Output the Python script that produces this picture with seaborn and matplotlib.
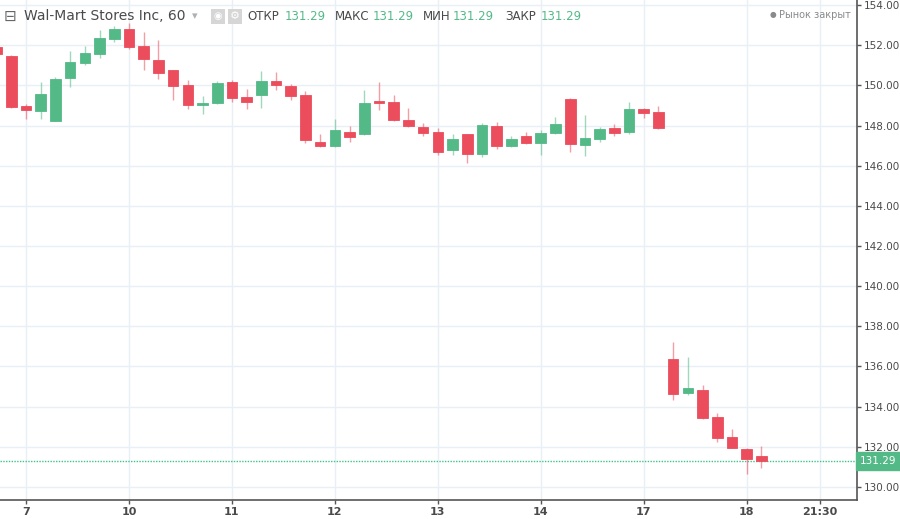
import numpy as np
import seaborn as sns
import matplotlib.pyplot as plt
from matplotlib.patches import Rectangle

# hourly candles, index 0 = first bar of day "7"
idx = list(range(-2, 51))
opens = [151.92, 151.45, 148.96, 148.73, 148.20, 150.38, 151.09, 151.57, 152.31, 152.81,
         151.98, 151.25, 150.75, 150.03, 149.00, 149.10, 150.17, 149.42, 149.52, 150.21,
         149.98, 149.50, 147.19, 147.00, 147.67, 147.60, 149.22, 149.19, 148.29, 147.94,
         147.67, 146.80, 147.56, 146.60, 147.96, 146.98, 147.50, 147.13, 147.64, 149.32,
         147.01, 147.33, 147.90, 147.66, 148.81, 148.66, 136.35, 134.69, 134.85, 133.46,
         132.48, 131.90, 131.55]
closes = [151.54, 148.90, 148.77, 149.55, 150.31, 151.17, 151.60, 152.35, 152.81, 151.89,
          151.29, 150.59, 149.95, 149.00, 149.10, 150.14, 149.39, 149.19, 150.21, 150.00,
          149.49, 147.26, 146.97, 147.77, 147.43, 149.14, 149.14, 148.26, 148.00, 147.64,
          146.69, 147.35, 146.57, 148.04, 146.96, 147.35, 147.13, 147.62, 148.05, 147.10,
          147.40, 147.81, 147.63, 148.81, 148.62, 147.90, 134.64, 134.94, 133.41, 132.42,
          131.96, 131.41, 131.29]
highs = [152.00, 151.50, 149.05, 150.15, 150.41, 151.70, 151.95, 152.75, 152.95, 153.10,
         152.66, 152.25, 150.75, 150.25, 149.45, 150.20, 150.25, 149.82, 150.72, 150.65,
         150.08, 149.70, 147.58, 148.33, 148.00, 149.75, 150.15, 149.52, 148.89, 148.14,
         147.90, 147.60, 147.60, 148.10, 148.16, 147.50, 147.70, 147.77, 148.44, 149.35,
         148.50, 147.93, 148.06, 149.16, 148.89, 148.96, 137.22, 136.47, 135.09, 133.68,
         132.91, 131.92, 132.02]
lows = [151.50, 148.85, 148.30, 148.30, 148.20, 149.90, 151.00, 151.34, 152.15, 151.79,
        150.75, 150.31, 149.25, 148.80, 148.55, 149.05, 149.17, 148.80, 148.89, 149.79,
        149.29, 147.14, 146.94, 146.95, 147.17, 147.55, 148.76, 148.20, 147.95, 147.46,
        146.52, 146.52, 146.14, 146.45, 146.82, 146.95, 147.10, 146.52, 147.60, 146.69,
        146.49, 147.20, 147.50, 147.60, 148.39, 147.82, 134.35, 134.59, 133.38, 132.25,
        131.93, 130.64, 130.94]

day_ticks = [0, 7, 14, 21, 28, 35, 42, 49, 54]
day_labels = ['7', '10', '11', '12', '13', '14', '17', '18', '21:30']
price_ticks = list(range(130, 155, 2))
last_price = 131.29

up_color = '#53b987'
down_color = '#eb4d5c'
grid_color = '#e8eff5'
axis_color = '#555555'
text_color = '#4a4a4a'

sns.set_theme(style='white')
plt.rcParams['font.family'] = ['DejaVu Sans']

fig = plt.figure(figsize=(9, 5.19), dpi=100)
ax = fig.add_axes([0, 19 / 519, 857 / 900, 500 / 519])

x = np.array(idx, dtype=float)
o = np.array(opens)
c = np.array(closes)
h = np.array(highs)
l = np.array(lows)
colors = [up_color if cc >= oo else down_color for oo, cc in zip(o, c)]

bottoms = np.minimum(o, c)
heights = np.maximum(np.abs(c - o), 0.07)

ax.vlines(x, l, h, colors=colors, linewidth=1, alpha=0.55, zorder=2)
ax.bar(x, heights, bottom=bottoms, width=0.72, color=colors, edgecolor=colors,
       linewidth=0.6, zorder=3)

# last price line
ax.axhline(last_price, color='#3cc48a', linestyle=(0, (1, 1)), linewidth=1, zorder=1)

ax.set_xlim(-1.77, 56.5)
ax.set_ylim(129.35, 154.25)

ax.set_xticks(day_ticks)
ax.set_xticklabels(day_labels)
ax.set_yticks(price_ticks)
ax.set_yticklabels([f'{p:.2f}' for p in price_ticks])
ax.yaxis.tick_right()

ax.grid(True, color=grid_color, linewidth=1)
ax.set_axisbelow(True)

for side in ['left', 'top']:
    ax.spines[side].set_visible(False)
for side in ['right', 'bottom']:
    ax.spines[side].set_color(axis_color)
    ax.spines[side].set_linewidth(1.2)

ax.tick_params(axis='y', which='both', right=True, length=3, width=1,
               color=axis_color, labelsize=7.5, labelcolor=text_color, pad=2)
ax.tick_params(axis='x', which='both', bottom=True, length=3, width=1,
               color=axis_color, labelsize=8, labelcolor=text_color, pad=2)
for lbl in ax.get_xticklabels():
    lbl.set_fontweight('bold')

# price tag on the right axis
ax.annotate(f'{last_price:.2f}', xy=(1, last_price), xycoords=('axes fraction', 'data'),
            xytext=(15.5, 0), textcoords='offset points', va='center', ha='center',
            fontsize=7.5, color='white',
            bbox=dict(boxstyle='square,pad=0.4', fc=up_color, ec=up_color),
            annotation_clip=False)

# header
fig.text(4 / 900, 1 - 16 / 519, '⊟', fontsize=11, color='#666666', va='center', ha='left')
fig.text(24 / 900, 1 - 16 / 519, 'Wal-Mart Stores Inc, 60', fontsize=10,
         color=text_color, va='center', ha='left')
fig.text(192 / 900, 1 - 16 / 519, '▾', fontsize=8, color='#b0b0b0', va='center', ha='left')
for bx in (211, 228):
    fig.patches.append(Rectangle((bx / 900, 1 - 24 / 519), 14 / 900, 15 / 519,
                                 transform=fig.transFigure, fc='#d6d6d6', ec='none'))
fig.text(218 / 900, 1 - 16 / 519, '◉', fontsize=7, color='white', va='center', ha='center')
fig.text(235 / 900, 1 - 16 / 519, '⚙', fontsize=8, color='white', va='center', ha='center')

header = [('ОТКР', 247, 285), ('МАКС', 335, 373), ('МИН', 423, 453), ('ЗАКР', 505, 541)]
for name, hx, vx in header:
    fig.text(hx / 900, 1 - 16 / 519, name, fontsize=8.5, color=text_color,
             va='center', ha='left')
    fig.text(vx / 900, 1 - 16 / 519, f'{last_price:.2f}', fontsize=8.5,
             color=up_color, va='center', ha='left')

fig.text(773 / 900, 1 - 15 / 519, '●', fontsize=5.5, color='#8a8a8a', va='center', ha='center')
fig.text(779 / 900, 1 - 15 / 519, 'Рынок закрыт', fontsize=7, color='#8a8a8a',
         va='center', ha='left')

fig.savefig('out.png', dpi=100)
